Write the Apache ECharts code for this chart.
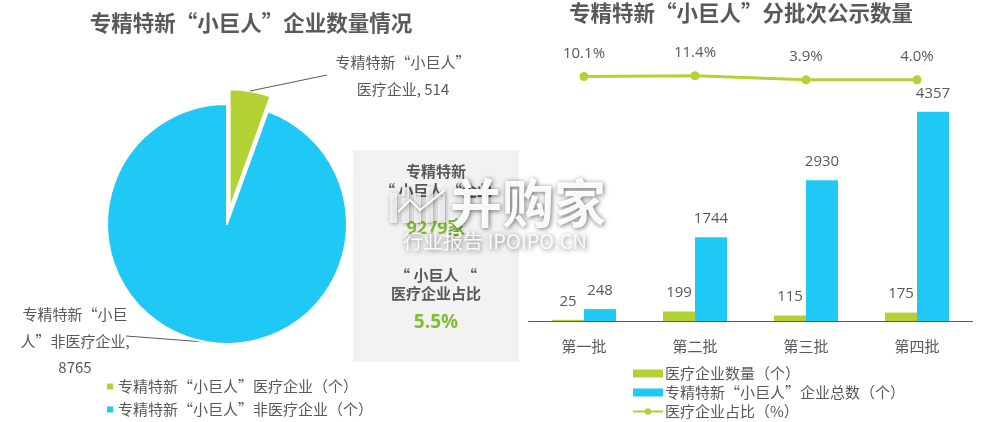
<!DOCTYPE html>
<html><head><meta charset="utf-8">
<style>html,body{margin:0;padding:0;background:#fff}#c{width:993px;height:422px}</style>
<script src="https://cdn.jsdelivr.net/npm/echarts@6/dist/echarts.min.js"></script>
</head><body><div id="c"></div>
<script>
const pieNames = ['专精特新“小巨人”医疗企业（个）', '专精特新“小巨人”非医疗企业（个）'];
const pieValues = [514, 8765];
const pieLabels = ['专精特新“小巨人”\n医疗企业, 514', '专精特新“小巨\n人”非医疗企业,\n8765'];
const categories = ['第一批', '第二批', '第三批', '第四批'];
const medicalCounts = [25, 199, 115, 175];
const totalCounts = [248, 1744, 2930, 4357];
const medicalShare = [10.1, 11.4, 3.9, 4.0];
const barNames = ['医疗企业数量（个）', '专精特新“小巨人”企业总数（个）', '医疗企业占比（%）'];

const GREEN = '#b2d235', BLUE = '#1fc8f5', TEXT = '#595959';
const FONT = '"Noto Sans CJK SC",sans-serif';
const NUM = '"Open Sans","Noto Sans CJK SC",sans-serif';
const wmShadow = {textShadowColor: 'rgba(0,0,0,0.6)', textShadowBlur: 5, textShadowOffsetX: 1, textShadowOffsetY: 1};
const rectShadow = {shadowColor: 'rgba(0,0,0,0.5)', shadowBlur: 4, shadowOffsetX: 1, shadowOffsetY: 1};
const bars = [[390,193,7,30],[402,187,7,36],[414,193,7,30],[426,187,7,36],[438,193,7,30]];

const chart = echarts.init(document.getElementById('c'), null, {renderer: 'canvas'});
chart.setOption({
  animation: false,
  textStyle: {fontFamily: FONT},
  title: [
    {text: '专精特新“小巨人”企业数量情况', left: 246, top: 7, textAlign: 'center',
     textStyle: {fontSize: 21.5, fontWeight: 'bold', color: TEXT, fontFamily: FONT}},
    {text: '专精特新“小巨人”分批次公示数量', left: 736, top: -3, textAlign: 'center',
     textStyle: {fontSize: 21.5, fontWeight: 'bold', color: TEXT, fontFamily: FONT}}
  ],
  legend: [
    {seriesIndex: 0, data: pieNames, orient: 'vertical', left: 105, top: 378, itemWidth: 8, itemHeight: 8,
     itemGap: 6, icon: 'rect', padding: 0, selectedMode: false,
     textStyle: {fontSize: 15, color: TEXT, lineHeight: 17, fontFamily: FONT, padding: [0,0,0,-1]}},
    {data: [{name: barNames[0], icon: 'rect'}, {name: barNames[1], icon: 'rect'}, {name: barNames[2]}],
     orient: 'vertical', left: 632, top: 365, itemWidth: 30, itemHeight: 8, itemGap: 2, padding: 0,
     selectedMode: false, textStyle: {fontSize: 15, color: TEXT, lineHeight: 17, fontFamily: FONT, padding: [0,0,0,-3]}}
  ],
  grid: [
    {left: 528.5, width: 444, top: 81, height: 240},
    {left: 528.5, width: 444, top: 49, height: 55}
  ],
  xAxis: [
    {type: 'category', gridIndex: 0, data: categories, axisTick: {show: false},
     axisLine: {lineStyle: {color: TEXT, width: 1}},
     axisLabel: {fontSize: 15, color: TEXT, margin: 18, fontFamily: FONT}},
    {type: 'category', gridIndex: 1, data: categories, show: false}
  ],
  yAxis: [
    {type: 'value', gridIndex: 0, min: 0, max: 5000, show: false},
    {type: 'value', gridIndex: 1, min: -40, max: 60, show: false}
  ],
  series: [
    {type: 'pie', name: 'pie', center: [227, 224], radius: [0, 120], startAngle: 90,
     selectedMode: 'single', selectedOffset: 15, silent: true, avoidLabelOverlap: false,
     itemStyle: {borderColor: '#fff', borderWidth: 2},
     data: pieNames.map((n, i) => ({name: n, value: pieValues[i], selected: i === 0,
       itemStyle: {color: [GREEN, BLUE][i]},
       label: {show: i === 1, formatter: pieLabels[i]}, labelLine: {show: i === 1}})),
     label: {show: true, fontSize: 15, color: TEXT, lineHeight: 26.5, align: 'center', fontFamily: FONT},
     labelLine: {show: true, lineStyle: {color: TEXT, width: 1}},
     labelLayout: p => p.dataIndex === 1
       ? {x: 75, y: 341, align: 'center', verticalAlign: 'middle',
          labelLinePoints: [[205, 342], [126, 336], [126, 336]]}
       : {}
    },
    {type: 'bar', name: barNames[0], xAxisIndex: 0, yAxisIndex: 0, data: medicalCounts, barWidth: 32, barGap: '0%',
     itemStyle: {color: GREEN}, label: {show: true, position: 'top', distance: 11, fontSize: 15, color: TEXT, fontFamily: NUM}},
    {type: 'bar', name: barNames[1], xAxisIndex: 0, yAxisIndex: 0, data: totalCounts, barWidth: 32, barGap: '0%',
     itemStyle: {color: BLUE}, label: {show: true, position: 'top', distance: 11, fontSize: 15, color: TEXT, fontFamily: NUM}},
    {type: 'line', name: barNames[2], xAxisIndex: 1, yAxisIndex: 1, data: medicalShare,
     symbol: 'circle', symbolSize: 9, lineStyle: {color: GREEN, width: 3}, itemStyle: {color: GREEN},
     label: {show: true, position: 'top', distance: 11, fontSize: 15, color: TEXT, fontFamily: NUM, formatter: p => p.value.toFixed(1) + '%'}}
  ],
  graphic: [
    {type: 'rect', z: 0, shape: {x: 353, y: 150, width: 166, height: 212}, style: {fill: '#f2f2f2'}},
    {type: 'polyline', z: 5, shape: {points: [[250, 91], [327, 75]]}, style: {fill: null, stroke: TEXT, lineWidth: 1}},
    {type: 'text', z: 5, style: {x: 403, y: 76, text: pieLabels[0], align: 'center', verticalAlign: 'middle', font: '15px ' + FONT, lineHeight: 26.5, fill: TEXT}},
    {type: 'text', z: 5, style: {x: 436, y: 171, text: '专精特新', align: 'center', verticalAlign: 'middle', font: 'bold 15px ' + FONT, fill: TEXT}},
    {type: 'text', z: 5, style: {x: 436, y: 190, text: '“ 小巨人 “企业', align: 'center', verticalAlign: 'middle', font: 'bold 15px ' + FONT, fill: TEXT}},
    {type: 'text', z: 5, style: {x: 436, y: 229, text: '9279家', align: 'center', verticalAlign: 'middle', font: 'bold 18px ' + NUM, fill: '#7fbf30'}},
    {type: 'text', z: 5, style: {x: 436, y: 275, text: '“ 小巨人 “', align: 'center', verticalAlign: 'middle', font: 'bold 15px ' + FONT, fill: TEXT}},
    {type: 'text', z: 5, style: {x: 436, y: 293, text: '医疗企业占比', align: 'center', verticalAlign: 'middle', font: 'bold 15px ' + FONT, fill: TEXT}},
    {type: 'text', z: 5, style: {x: 436, y: 323, text: '5.5%', align: 'center', verticalAlign: 'middle', font: 'bold 19px ' + NUM, fill: '#7fbf30'}},
    ...bars.map(b => ({type: 'rect', z: 20, shape: {x: b[0], y: b[1], width: b[2], height: b[3]},
      style: {fill: 'rgba(255,255,255,0.75)', ...rectShadow}})),
    {type: 'polyline', z: 20, shape: {points: [[398,212],[410,200],[420,210],[445,190]]},
      style: {fill: null, stroke: '#fff', lineWidth: 2, ...rectShadow}},
    {type: 'text', z: 21, style: {x: 528, y: 203, text: '并购家', align: 'center', verticalAlign: 'middle',
      font: 'bold 52px "Noto Sans CJK SC"', fill: 'rgba(255,255,255,0.95)', ...wmShadow}},
    {type: 'text', z: 21, style: {x: 495, y: 241, text: '行业报告 IPOIPO.CN', align: 'center', verticalAlign: 'middle',
      font: '20px "Noto Sans CJK SC"', fill: 'rgba(255,255,255,0.9)', ...wmShadow}}
  ]
});
</script></body></html>
